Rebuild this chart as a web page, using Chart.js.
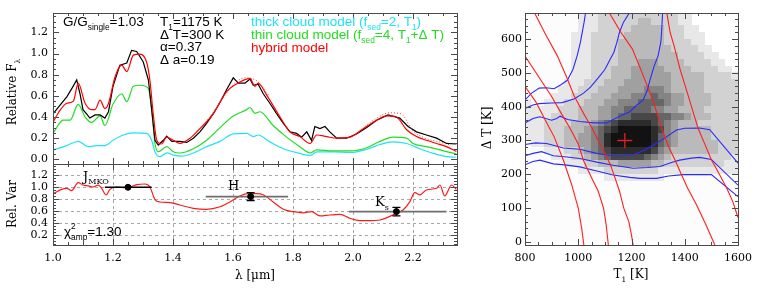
<!DOCTYPE html>
<html>
<head>
<meta charset="utf-8">
<script src="https://cdn.jsdelivr.net/npm/chart.js@4.4.1/dist/chart.umd.min.js"></script>
<style>
  html, body { margin: 0; padding: 0; background: #fff; }
  #wrap { position: relative; width: 761px; height: 289px; overflow: hidden; background: #fff; }
  canvas { position: absolute; }
</style>
</head>
<body>
<div id="wrap">
  <canvas id="spec" width="470" height="166" style="left:0px;top:0px"></canvas>
  <canvas id="amp" width="470" height="129" style="left:0px;top:160px"></canvas>
  <canvas id="grid" width="281" height="289" style="left:480px;top:0px"></canvas>
</div>
<script>
// ---- spectra (top left) ----
const obsWl = [1.000,1.020,1.046,1.065,1.079,1.090,1.100,1.112,1.123,1.140,1.157,1.173,1.185,1.200,1.223,1.246,1.262,1.279,1.301,1.318,1.329,1.340,1.351,1.368,1.379,1.396,1.423,1.446,1.468,1.490,1.512,1.534,1.557,1.579,1.601,1.618,1.640,1.657,1.668,1.684,1.701,1.723,1.746,1.768,1.790,1.812,1.829,1.846,1.862,1.873,1.890,1.907,1.923,1.946,1.979,2.012,2.046,2.079,2.117,2.156,2.184,2.212,2.245,2.279,2.312,2.345];
const obsFlux = [0.43,0.50,0.59,0.68,0.75,0.62,0.47,0.43,0.39,0.42,0.42,0.39,0.45,0.69,0.89,0.91,1.03,1.02,0.92,0.75,0.47,0.18,0.135,0.18,0.22,0.17,0.17,0.16,0.20,0.26,0.34,0.43,0.54,0.66,0.77,0.72,0.72,0.76,0.70,0.71,0.62,0.53,0.43,0.34,0.26,0.245,0.21,0.26,0.18,0.31,0.29,0.31,0.26,0.20,0.20,0.24,0.30,0.37,0.42,0.39,0.31,0.26,0.23,0.20,0.15,0.145];

const hybridWl = [1.000,1.020,1.046,1.068,1.084,1.107,1.129,1.140,1.157,1.173,1.184,1.207,1.229,1.246,1.268,1.290,1.312,1.323,1.334,1.346,1.362,1.379,1.401,1.423,1.457,1.490,1.534,1.579,1.623,1.657,1.673,1.684,1.712,1.757,1.790,1.823,1.857,1.879,1.912,1.946,1.990,2.034,2.079,2.112,2.145,2.179,2.212,2.245,2.279,2.312,2.345];
const hybridFlux = [0.35,0.45,0.53,0.55,0.72,0.53,0.47,0.47,0.56,0.48,0.52,0.78,0.89,0.83,0.985,0.995,0.92,0.75,0.435,0.18,0.145,0.21,0.18,0.15,0.20,0.29,0.43,0.64,0.73,0.765,0.69,0.72,0.61,0.40,0.26,0.215,0.15,0.23,0.215,0.20,0.21,0.29,0.37,0.41,0.40,0.28,0.215,0.18,0.15,0.12,0.075];

const hybridDotWl = [1.480,1.520,1.560,1.600,1.640,1.680,1.720,1.850,2.040,2.080,2.120,2.160,2.200,2.240,2.280,2.320];
const hybridDotFlux = [0.27,0.39,0.55,0.70,0.77,0.74,0.60,null,0.31,0.39,0.44,0.43,0.27,0.20,0.17,0.14];

const thinWl = [1.000,1.034,1.057,1.084,1.107,1.129,1.157,1.173,1.200,1.229,1.246,1.268,1.290,1.318,1.329,1.340,1.351,1.379,1.401,1.423,1.468,1.512,1.557,1.601,1.646,1.657,1.673,1.690,1.734,1.779,1.823,1.857,1.879,1.934,1.990,2.046,2.090,2.134,2.179,2.200,2.245,2.290,2.345];
const thinFlux = [0.245,0.37,0.37,0.52,0.40,0.35,0.41,0.32,0.52,0.62,0.545,0.69,0.70,0.67,0.47,0.15,0.072,0.12,0.072,0.06,0.10,0.18,0.30,0.41,0.47,0.49,0.435,0.45,0.32,0.21,0.12,0.06,0.09,0.08,0.08,0.11,0.17,0.21,0.20,0.15,0.12,0.09,0.05];

const thickWl = [1.000,1.046,1.084,1.118,1.146,1.173,1.200,1.234,1.268,1.312,1.329,1.340,1.357,1.379,1.401,1.429,1.468,1.512,1.557,1.601,1.646,1.668,1.684,1.723,1.768,1.823,1.857,1.879,1.934,1.990,2.046,2.090,2.134,2.179,2.223,2.268,2.312,2.345];
const thickFlux = [0.087,0.13,0.17,0.12,0.13,0.13,0.18,0.23,0.25,0.245,0.18,0.07,0.025,0.062,0.04,0.03,0.06,0.12,0.17,0.24,0.245,0.215,0.23,0.165,0.10,0.056,0.037,0.07,0.07,0.065,0.095,0.14,0.165,0.15,0.10,0.056,0.025,0.02];

const wlTicks = [1.0, 1.2, 1.4, 1.6, 1.8, 2.0, 2.2];
const fluxTicks = [0.0, 0.2, 0.4, 0.6, 0.8, 1.0, 1.2];

// ---- relative variability (bottom left) ----
const varWl = [1.000,1.029,1.046,1.062,1.084,1.100,1.118,1.134,1.151,1.162,1.177,1.190,1.212,1.234,1.257,1.279,1.307,1.323,1.340,1.357,1.390,1.423,1.468,1.512,1.557,1.590,1.623,1.651,1.679,1.701,1.734,1.768,1.801,1.834,1.862,1.890,1.923,1.957,1.990,2.023,2.057,2.090,2.145,2.167,2.190,2.206,2.223,2.245,2.279,2.290,2.306,2.329,2.345];
const varAmp = [0.883,0.96,0.977,0.94,1.073,1.033,1.017,1.00,1.03,0.98,0.867,0.96,1.00,0.99,1.00,1.04,1.05,1.00,0.79,0.75,0.74,0.70,0.644,0.628,0.67,0.75,0.85,0.89,0.89,0.87,0.75,0.628,0.589,0.57,0.589,0.517,0.533,0.544,0.478,0.44,0.44,0.45,0.561,0.617,0.756,0.906,0.867,0.95,0.978,1.033,0.85,1.033,0.96];
const varTicks = [0.2, 0.4, 0.6, 0.8, 1.0, 1.2];

const bandCenter = [1.250, 1.659, 2.145];
const bandAmp = [0.995, 0.84, 0.59];
const bandErr = [0.0, 0.065, 0.07];
const bandFrom = [1.173, 1.509, 1.987];
const bandTo = [1.329, 1.784, 2.312];
const bandColor = ['#000000', '#6e6e6e', '#6e6e6e'];

// ---- T1 / delta T grid (right) ----
const gridT = [800,825,850,875,900,925,950,975,1000,1025,1050,1075,1100,1125,1150,1175,1200,1225,1250,1275,1300,1325,1350,1375,1400,1425,1450,1475,1500,1525,1550,1575,1600];
const gridDT = [0,20,40,60,80,100,120,140,160,180,200,220,240,260,280,300,320,340,360,380,400,420,440,460,480,500,520,540,560,580,600,620,640,660,680];
// darkness 0-9, top row (660-680 K) first, '.' = no model
const gridRows = [
  "0000000011122222222222211.......",
  "0000000011122222233222211.......",
  "00000000111222223333322211......",
  "000000011122222333333222111.....",
  "000000011122223333333222211.....",
  "0000000111222233333333222211....",
  "00000001112222333333333222211...",
  "000000011122223334443333222211..",
  "0000000111222333444443333222211.",
  "00000001112223334444443333322221",
  "00000011122233344444443333322222",
  "00000111222333444455543333322222",
  "00001112223334445556554433332222",
  "10011122233344555666654433332222",
  "11111222333445566665544333322222",
  "11112222333445667777665543332222",
  "11122223334567888887654333222222",
  "11122233345678999998754333332222",
  "11122233445689999998654333332222",
  "01122233445689999998654333333222",
  "00011122345678888887543333333222",
  "00001112234567777765432222222221",
  "00000011122333444443322222222211",
  "00000000111122222222111111111111",
  "00000000000011111111100000000000",
  "00000000000000000000000000000000",
  "00000000000000000000000000000000",
  "00000000000000000000000000000000",
  "00000000000000000000000000000000",
  "00000000000000000000000000000000",
  "00000000000000000000000000000000",
  "00000000000000000000000000000000",
  "00000000000000000000000000000000",
  "00000000000000000000000000000000"
];
const grayLevels = [252, 232, 210, 186, 160, 132, 102, 72, 44, 18];

const redContour1 = [[800,460],[840,415],[880,355],[910,310],[945,240],[975,170],[1000,100],[1013,40],[1021,-9]];
const redContour2 = [[800,550],[850,490],[900,430],[940,375],[970,335],[1000,290],[1020,240],[1050,190],[1075,150],[1095,100],[1105,50],[1113,-9]];
const redContour3 = [[834,680],[880,610],[921,551],[955,490],[984,433],[1020,380],[1052,336],[1075,300],[1096,268],[1120,230],[1134,199],[1155,150],[1171,100],[1190,60],[1200,20],[1206,-9]];
const redContour4 = [[1115,680],[1160,620],[1203,571],[1240,500],[1280,420],[1313,337],[1340,280],[1365,240],[1382,209],[1410,160],[1444,110],[1480,50],[1513,-9]];
const redContour5 = [[1332,680],[1345,620],[1360,580],[1382,512],[1410,440],[1450,336],[1475,290],[1500,243],[1530,200],[1557,160],[1580,120],[1600,72]];

const blueContour1 = [[800,420],[825,440],[853,455],[880,456],[909,453],[935,465],[959,478],[980,510],[996,551],[1008,590],[1015,620],[1022,650],[1028,680]];
const blueContour2 = [[800,395],[830,405],[853,409],[900,411],[940,412],[984,423],[1020,440],[1046,458],[1075,485],[1100,510],[1120,540],[1134,561],[1145,590],[1155,620],[1170,650],[1194,680]];
const blueContour3 = [[800,352],[830,365],[856,370],[900,360],[919,365],[932,372],[960,362],[1006,356],[1060,352],[1106,352],[1156,372],[1194,385],[1220,405],[1244,420],[1260,450],[1269,478],[1285,520],[1300,551],[1310,590],[1313,620],[1317,680]];
const blueContour4 = [[800,288],[840,293],[881,291],[910,285],[944,278],[1006,274],[1069,262],[1131,254],[1170,255],[1206,258],[1250,272],[1294,292],[1330,310],[1369,331],[1400,336],[1456,337],[1494,332],[1600,233]];
const blueContour5 = [[800,255],[830,262],[862,267],[906,255],[950,252],[1006,247],[1070,236],[1131,227],[1206,218],[1260,220],[1307,223],[1350,235],[1381,242],[1425,248],[1456,250],[1500,244],[1600,168]];
const blueContour6 = [[800,228],[830,238],[856,242],[906,231],[950,228],[1006,222],[1070,210],[1131,198],[1194,191],[1231,188],[1294,188],[1340,195],[1394,199],[1450,199],[1500,199],[1600,134]];

const bestT = 1175, bestDT = 300;
const tTicks = [800, 1000, 1200, 1400, 1600];
const dtTicks = [0, 100, 200, 300, 400, 500, 600];

const SERIF = 'DejaVu Serif';
const SANS = 'Liberation Sans';
const tickFont = { family: SERIF, size: 11 };

const pts = (xs, ys) => xs.map((x, i) => ({ x: x, y: ys[i] }));
const pairs = c => c.map(p => ({ x: p[0], y: p[1] }));

function rich(ctx, parts, x, y, size, family, color, align) {
  const small = size * 0.62;
  const fontOf = k => (k === 'n' ? size : small) + 'px "' + family + '"';
  let w = 0;
  parts.forEach(([t, k]) => { ctx.font = fontOf(k); if (k !== 'sup0') w += ctx.measureText(t).width; });
  let cx = align === 'center' ? x - w / 2 : x;
  ctx.fillStyle = color;
  ctx.textAlign = 'left';
  ctx.textBaseline = 'alphabetic';
  parts.forEach(([t, k]) => {
    ctx.font = fontOf(k);
    let dy = 0;
    if (k === 'sub') dy = size * 0.3;
    if (k === 'sup0') dy = -size * 0.45;
    ctx.fillText(t, cx, y + dy);
    if (k !== 'sup0') cx += ctx.measureText(t).width;
  });
}

function richUp(ctx, parts, cx, cy, size, family) {
  ctx.save();
  ctx.translate(cx, cy);
  ctx.rotate(-Math.PI / 2);
  rich(ctx, parts, 0, size * 0.35, size, family, '#000', 'center');
  ctx.restore();
}

function sideTicks(ctx, a, scale, major, minorStep, horizontal) {
  const marks = major.map(v => [v, 6]);
  for (let v = Math.ceil(scale.min / minorStep) * minorStep; v <= scale.max + 1e-9; v += minorStep) marks.push([v, 3]);
  marks.forEach(([v, len]) => {
    const p = Math.round(scale.getPixelForValue(v)) + 0.5;
    if (horizontal) {
      if (p < a.left || p > a.right) return;
      ctx.moveTo(p, a.bottom); ctx.lineTo(p, a.bottom - len);
      ctx.moveTo(p, a.top); ctx.lineTo(p, a.top + len);
    } else {
      if (p < a.top || p > a.bottom) return;
      ctx.moveTo(a.left, p); ctx.lineTo(a.left + len, p);
      ctx.moveTo(a.right, p); ctx.lineTo(a.right - len, p);
    }
  });
}

const framePlugin = {
  id: 'frame',
  afterDatasetsDraw(chart) {
    const f = chart.config.options.frame;
    const { ctx, chartArea: a, scales } = chart;
    ctx.save();
    ctx.strokeStyle = '#4a4a4a';
    ctx.lineWidth = 1;
    ctx.beginPath();
    sideTicks(ctx, a, scales.x, f.xMajor, f.xMinor, true);
    sideTicks(ctx, a, scales.y, f.yMajor, f.yMinor, false);
    ctx.stroke();
    ctx.strokeRect(Math.round(a.left) + 0.5, Math.round(a.top) + 0.5, Math.round(a.right - a.left), Math.round(a.bottom - a.top));
    ctx.restore();
  }
};

// fixed axis box sizes, no extra room for the edge labels
function fixedAxis(w, h) {
  return s => {
    if (w !== undefined) s.width = w;
    if (h !== undefined) s.height = h;
    s.paddingTop = 0; s.paddingBottom = 0; s.paddingLeft = 0; s.paddingRight = 0;
  };
}
const useTicks = list => s => { s.ticks = list.map(v => ({ value: v })); };

// ---------- top left: spectra ----------
const lineDs = (data, color, extra) => Object.assign({
  data: data, borderColor: color, borderWidth: 1.2, pointRadius: 0, showLine: true,
  cubicInterpolationMode: 'monotone', spanGaps: false
}, extra || {});

new Chart(document.getElementById('spec'), {
  type: 'scatter',
  data: {
    datasets: [
      lineDs(pts(hybridDotWl, hybridDotFlux), '#ff3030', { borderDash: [1, 2], borderWidth: 1 }),
      lineDs(pts(hybridWl, hybridFlux), '#ff0000'),
      lineDs(pts(obsWl, obsFlux), '#000000', { cubicInterpolationMode: 'default', tension: 0 }),
      lineDs(pts(thinWl, thinFlux), '#22dd22'),
      lineDs(pts(thickWl, thickFlux), '#1ee3f3')
    ]
  },
  options: {
    responsive: false, animation: false, events: [],
    layout: { autoPadding: false, padding: { top: 13, right: 13, bottom: 2, left: 0 } },
    plugins: { legend: { display: false }, tooltip: { enabled: false } },
    frame: { xMajor: wlTicks, xMinor: 0.05, yMajor: fluxTicks, yMinor: 0.05 },
    scales: {
      x: { type: 'linear', min: 1.0, max: 2.347, display: false },
      y: {
        type: 'linear', min: -0.044, max: 1.383,
        afterFit: fixedAxis(53), afterBuildTicks: useTicks(fluxTicks),
        grid: { display: false, drawTicks: false }, border: { display: false },
        ticks: { font: tickFont, color: '#000', padding: 5, callback: v => v.toFixed(1) }
      }
    }
  },
  plugins: [framePlugin, {
    id: 'specText',
    afterDraw(chart) {
      const ctx = chart.ctx;
      richUp(ctx, [['Relative F', 'n'], ['λ', 'sub']], 12, 92, 12, SERIF);
      rich(ctx, [['G/G', 'n'], ['single', 'sub'], ['=1.03', 'n']], 63, 26, 13.5, SANS, '#000');
      rich(ctx, [['T', 'n'], ['1', 'sub'], ['=1175 K', 'n']], 160, 26, 13.5, SANS, '#000');
      rich(ctx, [['Δ T=300 K', 'n']], 160, 38.5, 13.5, SANS, '#000');
      rich(ctx, [['α=0.37', 'n']], 160, 51, 13.5, SANS, '#000');
      rich(ctx, [['Δ a=0.19', 'n']], 160, 63.5, 13.5, SANS, '#000');
      rich(ctx, [['thick cloud model (f', 'n'], ['sed', 'sub'], ['=2, T', 'n'], ['1', 'sub'], [')', 'n']], 251, 25.5, 13.5, SANS, '#1ee3f3');
      rich(ctx, [['thin cloud model (f', 'n'], ['sed', 'sub'], ['=4, T', 'n'], ['1', 'sub'], ['+Δ T)', 'n']], 251, 38.5, 13.5, SANS, '#22dd22');
      rich(ctx, [['hybrid model', 'n']], 251, 51.5, 13.5, SANS, '#ff0000');
    }
  }]
});

// ---------- bottom left: relative variability ----------
const ampDatasets = [
  { data: pts(bandCenter, bandAmp), borderColor: '#000', backgroundColor: '#000', pointRadius: 3, showLine: false },
  ...bandCenter.map((c, i) => ({
    data: [{ x: bandFrom[i], y: bandAmp[i] }, { x: bandTo[i], y: bandAmp[i] }],
    borderColor: bandColor[i], borderWidth: 1.6, pointRadius: 0, showLine: true
  })),
  lineDs(pts(varWl, varAmp), '#ff1a1a')
];

new Chart(document.getElementById('amp'), {
  type: 'scatter',
  data: { datasets: ampDatasets },
  options: {
    responsive: false, animation: false, events: [],
    layout: { autoPadding: false, padding: { top: 4, right: 13, bottom: 0, left: 0 } },
    plugins: { legend: { display: false }, tooltip: { enabled: false } },
    frame: { xMajor: wlTicks, xMinor: 0.05, yMajor: varTicks, yMinor: 0.05 },
    scales: {
      x: {
        type: 'linear', min: 1.0, max: 2.347,
        afterFit: fixedAxis(undefined, 44), afterBuildTicks: useTicks(wlTicks),
        grid: { display: false, drawTicks: false }, border: { display: false },
        ticks: { font: tickFont, color: '#000', padding: 7, maxRotation: 0, autoSkip: false, callback: v => v.toFixed(1) }
      },
      y: {
        type: 'linear', min: 0.033, max: 1.383,
        afterFit: fixedAxis(53), afterBuildTicks: useTicks(varTicks),
        grid: { display: false, drawTicks: false }, border: { display: false },
        ticks: { font: tickFont, color: '#000', padding: 5, callback: v => v.toFixed(1) }
      }
    }
  },
  plugins: [{
    id: 'ampGrid',
    beforeDatasetsDraw(chart) {
      const { ctx, chartArea: a, scales: { x, y } } = chart;
      ctx.save();
      ctx.strokeStyle = '#a8a8a8';
      ctx.lineWidth = 1;
      ctx.setLineDash([3, 3]);
      ctx.beginPath();
      wlTicks.slice(1).forEach(v => {
        const p = Math.round(x.getPixelForValue(v)) + 0.5;
        ctx.moveTo(p, a.top); ctx.lineTo(p, a.bottom);
      });
      varTicks.forEach(v => {
        const p = Math.round(y.getPixelForValue(v)) + 0.5;
        ctx.moveTo(a.left, p); ctx.lineTo(a.right, p);
      });
      ctx.stroke();
      ctx.restore();
    },
    afterDatasetsDraw(chart) {
      const { ctx, scales: { x, y } } = chart;
      ctx.save();
      ctx.strokeStyle = '#000';
      ctx.lineWidth = 1.3;
      ctx.beginPath();
      bandCenter.forEach((c, i) => {
        if (!bandErr[i]) return;
        const px = x.getPixelForValue(c);
        const y0 = y.getPixelForValue(bandAmp[i] - bandErr[i]);
        const y1 = y.getPixelForValue(bandAmp[i] + bandErr[i]);
        ctx.moveTo(px, y0); ctx.lineTo(px, y1);
        ctx.moveTo(px - 4, y0); ctx.lineTo(px + 4, y0);
        ctx.moveTo(px - 4, y1); ctx.lineTo(px + 4, y1);
      });
      ctx.stroke();
      ctx.restore();
    }
  }, framePlugin, {
    id: 'ampText',
    afterDraw(chart) {
      const ctx = chart.ctx;
      richUp(ctx, [['Rel. Var', 'n']], 12, 44, 12, SERIF);
      rich(ctx, [['λ [μm]', 'n']], 255, 119, 12, SERIF, '#000', 'center');
      rich(ctx, [['J', 'n'], ['MKO', 'sub']], 83, 20.5, 13, SERIF, '#000');
      rich(ctx, [['H', 'n']], 228, 30, 13, SERIF, '#000');
      rich(ctx, [['K', 'n'], ['s', 'sub']], 375, 46, 13, SERIF, '#000');
      rich(ctx, [['χ', 'n'], ['2', 'sup0'], ['amp', 'sub'], ['=1.30', 'n']], 64, 75.5, 13.5, SANS, '#000');
    }
  }]
});

// ---------- right: T1 vs delta T ----------
const heatPlugin = {
  id: 'heat',
  beforeDatasetsDraw(chart) {
    const { ctx, chartArea: a, scales: { x, y } } = chart;
    ctx.save();
    ctx.beginPath();
    ctx.rect(a.left, a.top, a.right - a.left, a.bottom - a.top);
    ctx.clip();
    const nRows = gridRows.length;
    gridRows.forEach((row, r) => {
      const lo = gridDT[nRows - 1 - r], hi = gridDT[nRows - r];
      const yTop = Math.floor(y.getPixelForValue(hi));
      const yBot = Math.ceil(y.getPixelForValue(lo));
      for (let c = 0; c < row.length; c++) {
        if (row[c] === '.') continue;
        const g = grayLevels[+row[c]];
        const x0 = Math.floor(x.getPixelForValue(gridT[c]));
        const x1 = Math.ceil(x.getPixelForValue(gridT[c + 1]));
        ctx.fillStyle = 'rgb(' + g + ',' + g + ',' + g + ')';
        ctx.fillRect(x0, yTop, x1 - x0, yBot - yTop);
      }
    });
    ctx.restore();
  }
};

const contourDs = (c, color) => ({ data: pairs(c), borderColor: color, borderWidth: 1.1, pointRadius: 0, showLine: true, tension: 0 });

new Chart(document.getElementById('grid'), {
  type: 'scatter',
  data: {
    datasets: [
      { data: [{ x: bestT, y: bestDT }], pointStyle: 'cross', pointRadius: 7.5, borderColor: '#e02020', borderWidth: 1.3 },
      ...[redContour1, redContour2, redContour3, redContour4, redContour5].map(c => contourDs(c, '#ff1f1f')),
      ...[blueContour1, blueContour2, blueContour3, blueContour4, blueContour5, blueContour6].map(c => contourDs(c, '#2a2aff'))
    ]
  },
  options: {
    responsive: false, animation: false, events: [],
    layout: { autoPadding: false, padding: { top: 13, right: 23, bottom: 0, left: 0 } },
    plugins: { legend: { display: false }, tooltip: { enabled: false } },
    frame: { xMajor: tTicks, xMinor: 50, yMajor: dtTicks, yMinor: 20 },
    scales: {
      x: {
        type: 'linear', min: 800, max: 1600,
        afterFit: fixedAxis(undefined, 44), afterBuildTicks: useTicks(tTicks),
        grid: { display: false, drawTicks: false }, border: { display: false },
        ticks: { font: tickFont, color: '#000', padding: 7, maxRotation: 0, autoSkip: false, callback: v => String(v) }
      },
      y: {
        type: 'linear', min: -9, max: 677,
        afterFit: fixedAxis(45), afterBuildTicks: useTicks(dtTicks),
        grid: { display: false, drawTicks: false }, border: { display: false },
        ticks: { font: tickFont, color: '#000', padding: 3, callback: v => String(v) }
      }
    }
  },
  plugins: [heatPlugin, framePlugin, {
    id: 'gridText',
    afterDraw(chart) {
      const ctx = chart.ctx;
      richUp(ctx, [['Δ T [K]', 'n']], 7, 128, 12, SERIF);
      rich(ctx, [['T', 'n'], ['1', 'sub'], [' [K]', 'n']], 151, 278, 12, SERIF, '#000', 'center');
    }
  }]
});
</script>
</body>
</html>
